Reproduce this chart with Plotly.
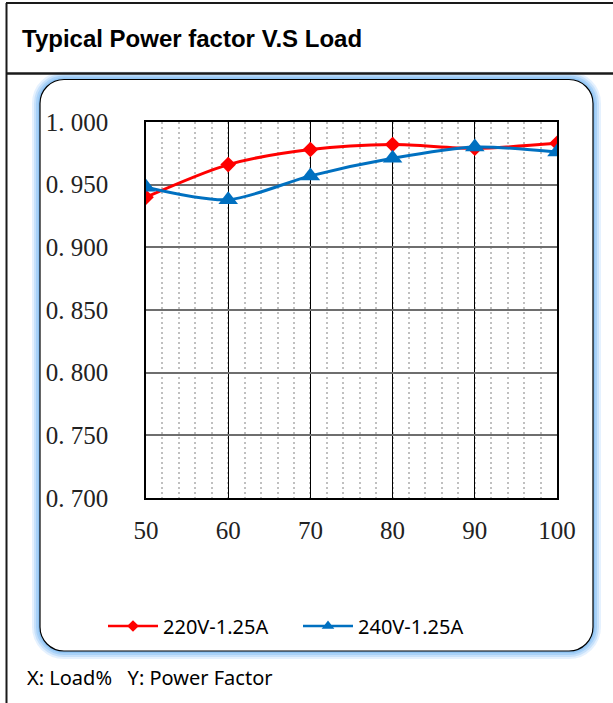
import plotly.graph_objects as go

# ---- data ----
load_pct = [50, 60, 70, 80, 90, 100]
pf_220v = [0.940, 0.966, 0.978, 0.982, 0.979, 0.983]
pf_240v = [0.948, 0.938, 0.957, 0.971, 0.980, 0.976]
series_names = ["220V-1.25A", "240V-1.25A"]
y_ticks = [0.70, 0.75, 0.80, 0.85, 0.90, 0.95, 1.00]
y_tick_labels = ["0. 700", "0. 750", "0. 800", "0. 850", "0. 900", "0. 950", "1. 000"]
x_ticks = [50, 60, 70, 80, 90, 100]
title_text = "Typical Power factor V.S Load"
footer_text = "X: Load%&nbsp;&nbsp;&nbsp;Y: Power Factor"

# ---- layout geometry (pixels) ----
W, H = 613, 703
PL, PR, PT, PB = 146, 557, 122, 498  # plot area


def px(x):
    return (x - PL) / (PR - PL)


def py(y):
    return (PB - y) / (PB - PT)


def rounded_path(x0, y0, x1, y1, r):
    k = 0.5523 * r
    pts = [
        ("M", [(x0 + r, y0)]),
        ("L", [(x1 - r, y0)]),
        ("C", [(x1 - r + k, y0), (x1, y0 + r - k), (x1, y0 + r)]),
        ("L", [(x1, y1 - r)]),
        ("C", [(x1, y1 - r + k), (x1 - r + k, y1), (x1 - r, y1)]),
        ("L", [(x0 + r, y1)]),
        ("C", [(x0 + r - k, y1), (x0, y1 - r + k), (x0, y1 - r)]),
        ("L", [(x0, y0 + r)]),
        ("C", [(x0, y0 + r - k), (x0 + r - k, y0), (x0 + r, y0)]),
    ]
    s = ""
    for cmd, ps in pts:
        s += cmd + " " + " ".join(f"{px(a):.5f},{py(b):.5f}" for a, b in ps) + " "
    return s + "Z"


fig = go.Figure()

fig.add_trace(go.Scatter(
    x=load_pct, y=pf_220v, mode="lines+markers", name=series_names[0],
    line=dict(color="#FF0000", width=3, shape="spline", smoothing=0.8),
    marker=dict(symbol="diamond", size=12, color="#FF0000"),
    showlegend=False,
))
fig.add_trace(go.Scatter(
    x=load_pct, y=pf_240v, mode="lines+markers", name=series_names[1],
    line=dict(color="#0070C0", width=3, shape="spline", smoothing=0.8),
    marker=dict(symbol="triangle-up", size=17, color="#0070C0"),
    showlegend=False,
))
# legend entries (smaller markers as in reference)
fig.add_trace(go.Scatter(
    x=[None], y=[None], mode="lines+markers", name=series_names[0],
    line=dict(color="#FF0000", width=2.5),
    marker=dict(symbol="diamond", size=9, color="#FF0000"),
))
fig.add_trace(go.Scatter(
    x=[None], y=[None], mode="lines+markers", name=series_names[1],
    line=dict(color="#0070C0", width=2.5),
    marker=dict(symbol="triangle-up", size=11, color="#0070C0"),
))

shapes = []
box = rounded_path(40, 79.5, 593, 651, 24)
for w, c in [(16, "rgba(160,205,250,0.28)"), (12, "rgba(150,200,248,0.38)"),
             (8, "rgba(140,195,245,0.5)"), (4, "rgba(130,188,242,0.6)")]:
    shapes.append(dict(type="path", path=box, xref="paper", yref="paper",
                       line=dict(color=c, width=w), layer="below"))
shapes.append(dict(type="path", path=box, xref="paper", yref="paper",
                   line=dict(color="#000000", width=1.2), fillcolor="white", layer="below"))
# outer frame
frame_col = "#1a1a1a"
shapes.append(dict(type="line", xref="paper", yref="paper", x0=px(6), x1=px(613), y0=py(3), y1=py(3),
                   line=dict(color=frame_col, width=2)))
shapes.append(dict(type="line", xref="paper", yref="paper", x0=px(6.5), x1=px(6.5), y0=py(3), y1=py(703),
                   line=dict(color=frame_col, width=2)))
shapes.append(dict(type="line", xref="paper", yref="paper", x0=px(6), x1=px(613), y0=py(73.5), y1=py(73.5),
                   line=dict(color=frame_col, width=2.5)))

fig.update_layout(
    width=W, height=H,
    margin=dict(l=PL, r=W - PR, t=PT, b=H - PB, pad=0),
    paper_bgcolor="white", plot_bgcolor="white",
    shapes=shapes,
    showlegend=True,
    legend=dict(orientation="h", x=px(103), xanchor="left", y=py(626), yanchor="middle",
                font=dict(family="Noto Sans", size=20, color="#000000"),
                bgcolor="rgba(0,0,0,0)", itemwidth=50, entrywidth=130, entrywidthmode="pixels"),
    annotations=[
        dict(text="<b>" + title_text + "</b>", xref="paper", yref="paper", x=px(20), y=py(38.5),
             xanchor="left", yanchor="middle", showarrow=False,
             font=dict(family="Liberation Sans", size=24, color="#000000")),
        dict(text=footer_text, xref="paper", yref="paper", x=px(25), y=py(677),
             xanchor="left", yanchor="middle", showarrow=False,
             font=dict(family="Noto Sans", size=20, color="#000000")),
    ],
)

fig.update_xaxes(
    range=[50, 100], tickvals=x_ticks, ticks="", ticklabelstandoff=9,
    tickfont=dict(family="Liberation Serif", size=25, color="#222222"),
    showgrid=True, gridcolor="#000000", gridwidth=1,
    minor=dict(dtick=2, showgrid=True, gridcolor="#c0c0c0", gridwidth=2, griddash="2px,3px"),
    showline=True, linecolor="#000000", linewidth=1.5, mirror=True, zeroline=False,
)
fig.update_yaxes(
    range=[0.7, 1.0], tickvals=y_ticks, ticktext=y_tick_labels, ticks="", ticklabelstandoff=31,
    tickfont=dict(family="Liberation Serif", size=25, color="#222222"),
    showgrid=True, gridcolor="#6e6e6e", gridwidth=1.5,
    showline=True, linecolor="#000000", linewidth=1.5, mirror=True, zeroline=False,
)

fig.write_html("out.html", config={"displayModeBar": False},
               post_script="document.body.style.margin='0px';")
